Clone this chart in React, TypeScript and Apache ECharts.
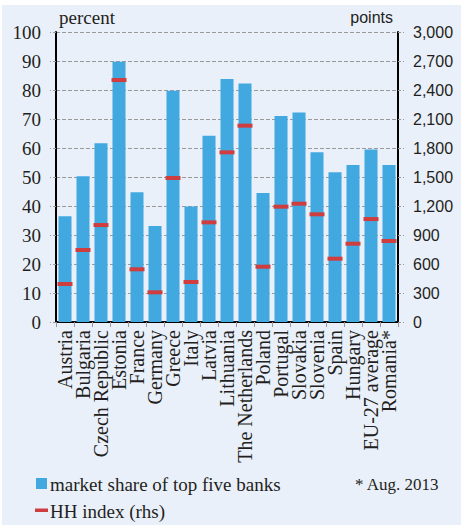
import React, { useEffect, useRef } from "react";
import * as echarts from "echarts";

const categories = [
  "Austria", "Bulgaria", "Czech Republic", "Estonia", "France", "Germany", "Greece",
  "Italy", "Latvia", "Lithuania", "The Netherlands", "Poland", "Portugal", "Slovakia",
  "Slovenia", "Spain", "Hungary", "EU-27 average", "Romania*",
];
const marketShare = [36.5, 50.3, 61.6, 89.7, 44.7, 33.1, 79.7, 39.8, 64.2, 83.8, 82.2, 44.5, 71, 72.2, 58.5, 51.6, 54.1, 59.5, 54.1];
const hhIndex = [393, 745, 1003, 2503, 545, 307, 1490, 414, 1031, 1755, 2031, 572, 1193, 1224, 1114, 655, 810, 1065, 838];

const leftTicks = { min: 0, max: 100, interval: 10 };
const rightTicks = { min: 0, max: 3000, interval: 300 };

const BLUE = "#41a8e0";
const RED = "#cf3d3f";
const SERIF = "Liberation Serif";
const SANS = "Liberation Sans";
const TXT = "#231f20";

export default function App() {
  const ref = useRef<HTMLDivElement>(null);
  useEffect(() => {
    if (!ref.current) return;
    const chart = echarts.init(ref.current, null, { renderer: "svg" });
    const txt = (text: string, x: number, y: number, size: number, family: string, align = "left") => ({
      type: "text",
      x,
      y,
      style: { text, fontSize: size, fontFamily: family, fill: TXT, align, verticalAlign: "middle" },
    });
    chart.setOption({
      animation: false,
      backgroundColor: "#ffffff",
      grid: { left: 56, right: 63, top: 32, bottom: 203, containLabel: false },
      graphic: [
        { type: "rect", z: -10, shape: { x: 2, y: 5, width: 459, height: 520 }, style: { fill: "#eaf0fa" } },
        txt("percent", 59, 17, 19, SERIF),
        txt("points", 393, 17, 16, SANS, "right"),
        { type: "rect", shape: { x: 36, y: 478, width: 11, height: 11 }, style: { fill: BLUE } },
        txt("market share of top five banks", 50, 484, 19, SERIF),
        { type: "rect", shape: { x: 35, y: 508.5, width: 13, height: 3.5 }, style: { fill: RED } },
        txt("HH index (rhs)", 50, 511, 19, SERIF),
        txt("* Aug. 2013", 355, 484, 17, SERIF),
      ],
      xAxis: {
        type: "category",
        data: categories,
        axisLine: { lineStyle: { color: "#000", width: 2 } },
        axisTick: { show: true, length: 5, lineStyle: { color: "#999" } },
        axisLabel: { rotate: 90, interval: 0, margin: 8, color: TXT, fontFamily: SERIF, fontSize: 20 },
      },
      yAxis: [
        {
          type: "value",
          min: leftTicks.min, max: leftTicks.max, interval: leftTicks.interval,
          axisLine: { show: true, lineStyle: { color: "#000", width: 2 } },
          axisTick: { show: true, length: 6, lineStyle: { color: "#999", type: [3, 2] } },
          splitLine: { show: true, lineStyle: { color: "#9a9a9a", type: [4, 2] } },
          axisLabel: { color: TXT, fontFamily: SERIF, fontSize: 19, margin: 15 },
        },
        {
          type: "value",
          min: rightTicks.min, max: rightTicks.max, interval: rightTicks.interval,
          axisLine: { show: true, lineStyle: { color: "#000", width: 2 } },
          axisTick: { show: true, length: 6, lineStyle: { color: "#999", type: [3, 2] } },
          splitLine: { show: false },
          axisLabel: {
            color: TXT, fontFamily: SANS, fontSize: 16, margin: 15,
            formatter: (v: number) => v.toLocaleString("en-US"),
          },
        },
      ],
      series: [
        {
          name: "market share of top five banks",
          type: "bar",
          data: marketShare,
          barWidth: 13,
          itemStyle: { color: BLUE },
        },
        {
          name: "HH index (rhs)",
          type: "scatter",
          yAxisIndex: 1,
          data: hhIndex,
          symbol: "rect",
          symbolSize: [15, 4],
          itemStyle: { color: RED, opacity: 1 },
          z: 5,
        },
      ],
    });
    return () => chart.dispose();
  }, []);
  return (
    <div
      ref={ref}
      style={{ position: "fixed", left: 0, top: 0, width: 461, height: 525 }}
    />
  );
}
